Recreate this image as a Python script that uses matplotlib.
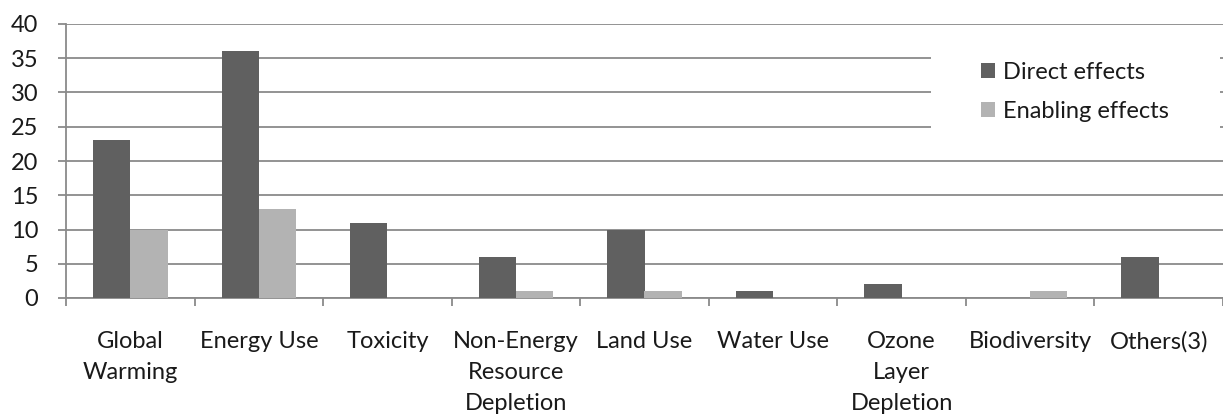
import numpy as np
import matplotlib.pyplot as plt
from matplotlib.patches import Rectangle

categories = ["Global\nWarming", "Energy Use", "Toxicity", "Non-Energy\nResource\nDepletion",
              "Land Use", "Water Use", "Ozone\nLayer\nDepletion", "Biodiversity", "Others(3)"]
direct = [23, 36, 11, 6, 10, 1, 2, 0, 6]
enabling = [10, 13, 0, 1, 1, 0, 0, 1, 0]

plt.rcParams['font.family'] = ['Lato', 'DejaVu Sans']
fs = 17

fig = plt.figure(figsize=(12.23, 4.16), dpi=100)
ax = fig.add_axes([66 / 1223, 1 - 298 / 416, 1157 / 1223, 274 / 416])

x = np.arange(len(categories))
w = 0.29
ax.bar(x - w / 2, direct, w, color='#606060', label='Direct effects', zorder=3)
ax.bar(x + w / 2, enabling, w, color='#b3b3b3', label='Enabling effects', zorder=3)

ax.set_xlim(-0.5, len(categories) - 0.5)
ax.set_ylim(0, 40)
ax.set_yticks(range(0, 41, 5))
ax.yaxis.grid(True, color='#8a8a8a', linewidth=1.3, zorder=0)

ax.set_xticks(np.arange(-0.5, len(categories), 1))
ax.set_xticklabels([])
ax.set_xticks(x, minor=True)
ax.set_xticklabels(categories, minor=True, fontsize=fs, color='#1a1a1a', linespacing=1.57)
ax.tick_params(axis='x', which='minor', length=0, pad=24)
ax.tick_params(axis='x', which='major', length=6, color='#8a8a8a', width=1.3)
ax.tick_params(axis='y', length=6, color='#8a8a8a', width=1.3, labelsize=fs, labelcolor='#1a1a1a', pad=14)

for s in ['top', 'right']:
    ax.spines[s].set_visible(False)
for s in ['left', 'bottom']:
    ax.spines[s].set_color('#8a8a8a')
    ax.spines[s].set_linewidth(1.3)

# white legend area covering the gridlines
ax.add_patch(Rectangle((931 / 1223, 1 - 140 / 416), 289 / 1223, 95 / 416, transform=fig.transFigure,
                       facecolor='white', edgecolor='none', zorder=4, clip_on=False))

leg = ax.legend(loc='upper left', bbox_to_anchor=(981 / 1223, 1 - 62 / 416), bbox_transform=fig.transFigure,
                frameon=False, fontsize=fs, handlelength=0.6, handleheight=0.6, handletextpad=0.35,
                labelspacing=0.75, borderpad=0, borderaxespad=0)
leg.set_zorder(5)
for t in leg.get_texts():
    t.set_color('#1a1a1a')

fig.savefig('out.png', dpi=100)
